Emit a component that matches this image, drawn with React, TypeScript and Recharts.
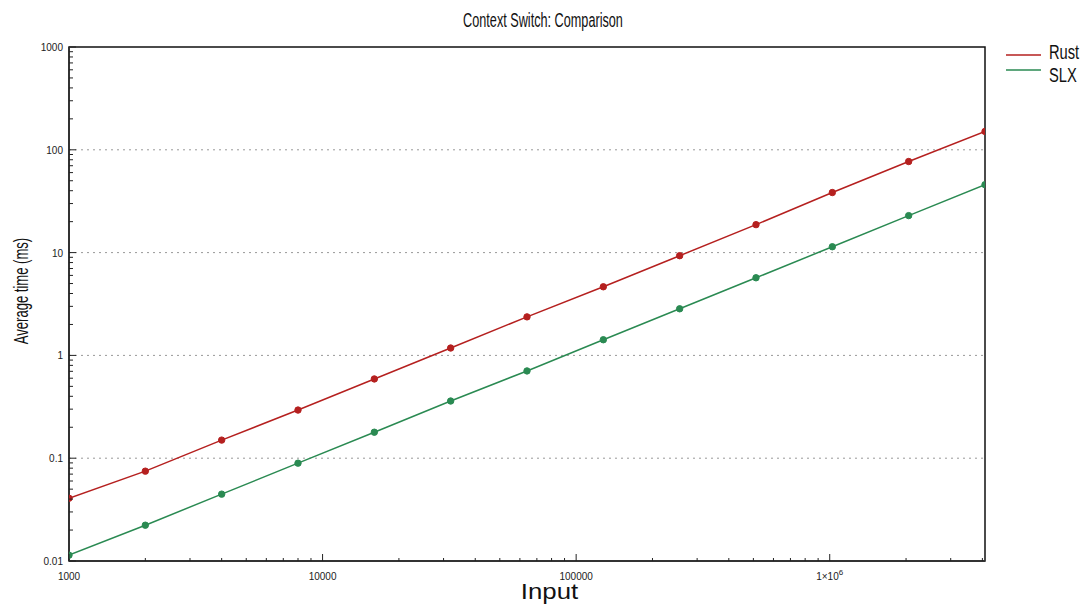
import React from "react";
import {
  LineChart,
  Line,
  XAxis,
  YAxis,
  ReferenceLine,
  ReferenceArea,
} from "recharts";

// input sizes (x) and measured average times in ms
const inputs = [1000, 2000, 4000, 8000, 16000, 32000, 64000, 128000, 256000, 512000, 1024000, 2048000, 4096000];
const rustTimes = [0.0408, 0.0748, 0.15, 0.294, 0.59, 1.18, 2.37, 4.65, 9.33, 18.7, 38.4, 76.9, 151];
const slxTimes = [0.0114, 0.0223, 0.0447, 0.0895, 0.179, 0.36, 0.706, 1.42, 2.84, 5.69, 11.4, 22.9, 45.8];

const xMajor = [1000, 10000, 100000, 1000000];
const yMajor = [0.01, 0.1, 1, 10, 100, 1000];
const yGrid = [0.1, 1, 10, 100];

const RUST = "#b5201f";
const SLX = "#2a8a52";
const SANS = "'Liberation Sans', Arial, sans-serif";

const data = inputs.map((n, i) => ({ input: n, rust: rustTimes[i], slx: slxTimes[i] }));

// minor ticks: 2..9 within each decade
const minorOf = (majors: number[], max: number) => {
  const out: number[] = [];
  majors.forEach((m) => {
    for (let k = 2; k <= 9; k++) if (m * k <= max) out.push(m * k);
  });
  return out;
};
const xTicks = [...xMajor, ...minorOf(xMajor, 4096000)].sort((a, b) => a - b);
const yTicks = [...yMajor, ...minorOf(yMajor.slice(0, -1), 1000)].sort((a, b) => a - b);

const xLabel = (v: number) => {
  if (v === 1000000) {
    return (
      <>
        1×10
        <tspan dy={-5} fontSize={8}>6</tspan>
      </>
    );
  }
  return String(v);
};

const XTick = (props: any) => {
  const { x, y, payload } = props;
  const major = xMajor.includes(payload.value);
  return (
    <g>
      <line x1={x} x2={x} y1={y} y2={y - (major ? 7 : 3)} stroke="#222" strokeWidth={1} />
      {major && (
        <text x={x} y={y + 19} textAnchor="middle" fontSize={10} fill="#222" fontFamily={SANS}>
          {xLabel(payload.value)}
        </text>
      )}
    </g>
  );
};

const YTick = (props: any) => {
  const { x, y, payload } = props;
  const major = yMajor.includes(payload.value);
  return (
    <g>
      <line x1={x} x2={x + (major ? 7 : 4)} y1={y} y2={y} stroke="#222" strokeWidth={1} />
      {major && (
        <text x={x - 6} y={y + 4} textAnchor="end" fontSize={10} fill="#222" fontFamily={SANS}>
          {payload.value}
        </text>
      )}
    </g>
  );
};

const legendItems = [
  { name: "Rust", color: RUST, lineY: 55, textY: 59 },
  { name: "SLX", color: SLX, lineY: 70, textY: 82 },
];

const App = () => {
  return (
    <div style={{ position: "absolute", left: 0, top: 0, width: 1085, height: 604, background: "#fff" }}>
      <LineChart
        width={1085}
        height={604}
        data={data}
        margin={{ top: 47, right: 100, left: 9, bottom: 13 }}
      >
        <XAxis
          dataKey="input"
          type="number"
          scale="log"
          domain={[1000, 4096000]}
          ticks={xTicks}
          tick={<XTick />}
          tickSize={0}
          tickMargin={0}
          interval={0}
          height={30}
          axisLine={{ stroke: "#333", strokeWidth: 2 }}
          allowDataOverflow
        />
        <YAxis
          type="number"
          scale="log"
          domain={[0.01, 1000]}
          ticks={yTicks}
          tick={<YTick />}
          tickSize={0}
          tickMargin={0}
          interval={0}
          width={60}
          axisLine={{ stroke: "#333", strokeWidth: 2 }}
          allowDataOverflow
        />
        {yGrid.map((v) => (
          <ReferenceLine key={v} y={v} stroke="#999" strokeDasharray="2 4" />
        ))}
        <ReferenceArea x1={1000} x2={4096000} y1={0.01} y2={1000} fill="none" stroke="#111" strokeWidth={1.5} />
        <Line
          dataKey="rust"
          stroke={RUST}
          strokeWidth={1.5}
          dot={{ r: 3.2, fill: RUST, stroke: RUST, strokeWidth: 1 }}
          isAnimationActive={false}
        />
        <Line
          dataKey="slx"
          stroke={SLX}
          strokeWidth={1.5}
          dot={{ r: 3.2, fill: SLX, stroke: SLX, strokeWidth: 1 }}
          isAnimationActive={false}
        />
      </LineChart>

      {/* title, axis titles and legend (condensed look = squeezed sans) */}
      <svg
        width={1085}
        height={604}
        style={{ position: "absolute", left: 0, top: 0, pointerEvents: "none" }}
        fontFamily={SANS}
        fill="#111"
      >
        <text transform="translate(543, 26.5) scale(0.65, 1)" textAnchor="middle" fontSize={19.5}>
          Context Switch: Comparison
        </text>
        <text transform="translate(549.5, 598.5) scale(1.2, 1)" textAnchor="middle" fontSize={21.5}>
          Input
        </text>
        <text transform="translate(27.5, 291) rotate(-90) scale(0.67, 1)" textAnchor="middle" fontSize={19.5}>
          Average time (ms)
        </text>
        {legendItems.map((s) => (
          <g key={s.name}>
            <line x1={1006} x2={1041} y1={s.lineY} y2={s.lineY} stroke={s.color} strokeWidth={1.5} />
            <text transform={`translate(1049, ${s.textY}) scale(0.7, 1)`} fontSize={21}>
              {s.name}
            </text>
          </g>
        ))}
      </svg>
    </div>
  );
};

export default App;
